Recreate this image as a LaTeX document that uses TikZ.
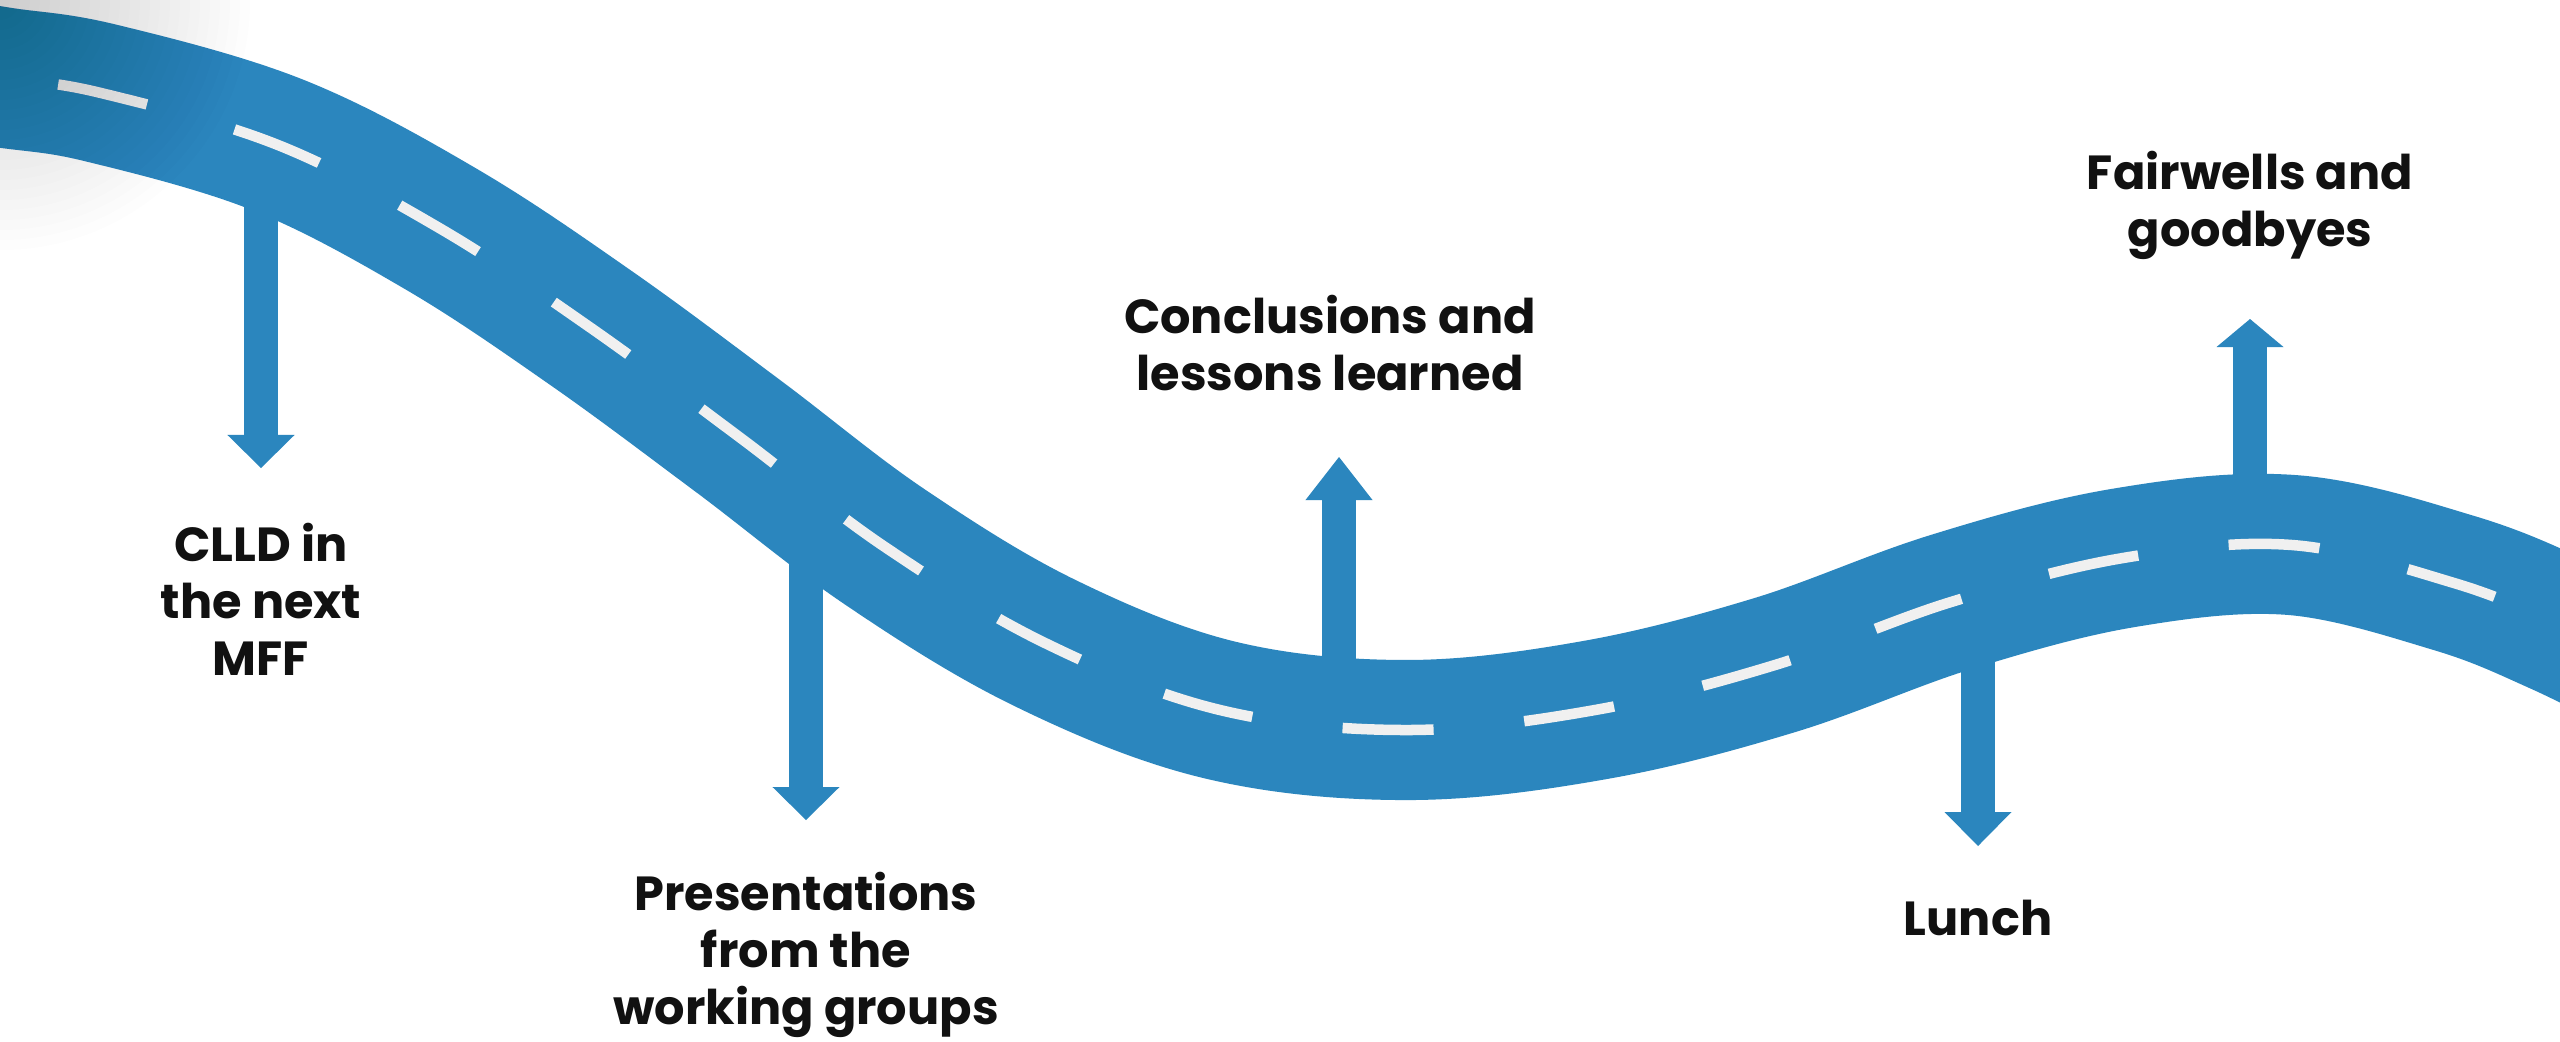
\documentclass[tikz,border=0pt]{standalone}
\usepackage{fontspec}
\setmainfont{Poppins}
\usetikzlibrary{arrows.meta}
\definecolor{roadblue}{RGB}{43,134,190}
\definecolor{lanewhite}{RGB}{240,240,240}
\definecolor{txt}{RGB}{17,17,17}
\begin{document}
\begin{tikzpicture}[x=0.01cm,y=-0.01cm,
  road/.style={draw=roadblue,line width=1.40cm},
  lane/.style={draw=lanewhite,line width=0.105cm,dash pattern=on 0.91cm off 0.91cm,dash phase=0.222cm},
  pointer/.style={draw=roadblue,line width=0.34cm,-{Triangle[width=0.67cm,length=#1,line width=0pt]}},
  pointer/.default=0.33cm,
  lbl/.style={font=\bfseries\fontsize{13.6}{16.2}\selectfont,text=txt,align=center,inner sep=0pt}]
\useasboundingbox (0,0) rectangle (2560,1041);
\clip (0,0) rectangle (2560,1041);
\fill[white] (0,0) rectangle (2560,1041);
% road
\draw[road] plot[smooth,tension=0.6] coordinates {(-100,61) (0,77) (101,93) (278,145) (441,229) (591,328) (738,436) (885,547) (1045,643) (1220,710) (1407,730) (1595,710) (1775,665) (1951,602) (2123,558) (2292,545) (2454,583) (2560,625) (2660,675)};
% pointers
\coordinate (r1) at (261,160);  \coordinate (t1) at (261,468);
\coordinate (r2) at (806,500);  \coordinate (t2) at (806,820);
\coordinate (r3) at (1339,725); \coordinate (t3) at (1339,457);
\coordinate (r4) at (1978,600); \coordinate (t4) at (1978,846);
\coordinate (r5) at (2250,548); \coordinate (t5) at (2250,319);
\draw[pointer] (r1) -- (t1);
\draw[pointer] (r2) -- (t2);
\draw[pointer=0.43cm] (r3) -- (t3);
\draw[pointer=0.34cm] (r4) -- (t4);
\draw[pointer=0.28cm] (r5) -- (t5);
% lane markings
\draw[lane] plot[smooth,tension=0.6] coordinates {(-100,61) (0,77) (101,93) (278,145) (441,229) (591,328) (738,436) (885,547) (1045,643) (1220,710) (1407,730) (1595,710) (1775,665) (1951,602) (2123,558) (2292,545) (2454,583) (2560,625) (2660,675)};
% labels
\node[lbl] (clld) at (261,599) {CLLD in\\the next\\MFF};
\node[lbl] (pres) at (806,955) {Presentations\\from the\\working groups};
\node[lbl] (conc) at (1330,343) {Conclusions and\\lessons learned};
\node[lbl] (lunch) at (1978,918) {Lunch};
\node[lbl] (fare) at (2250,205) {Fairwells and\\goodbyes};
% corner shading
\foreach \r in {0.1,0.2,...,2.5} \fill[black,opacity=0.007] (0,0) circle (\r cm);
\foreach \r in {0.1,0.2,...,2.4} \fill[black,opacity=0.0016] (2560,1041) circle (\r cm);
\end{tikzpicture}
\end{document}
